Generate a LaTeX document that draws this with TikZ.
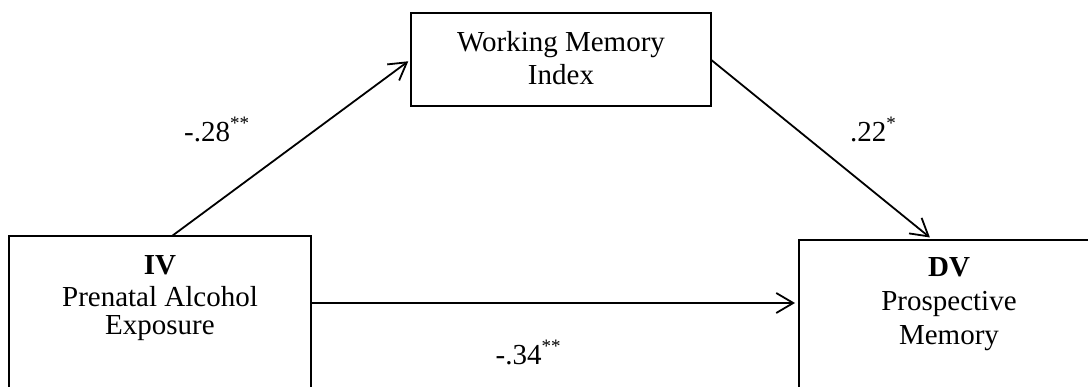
\documentclass[tikz,border=0pt]{standalone}
\usepackage{fontspec}
\setmainfont{Liberation Serif}
\usetikzlibrary{arrows.meta}
% significance stars set small and raised after a coefficient
\newcommand\sigstars[1]{\raisebox{12pt}{\fontsize{19}{19}\selectfont #1}}
\begin{document}
\begin{tikzpicture}[x=1pt,y=-1pt,
  box/.style={draw,line width=1.8pt,rectangle,inner sep=0pt,outer sep=0pt},
  boxtext/.style={font=\fontsize{29}{33}\selectfont,inner sep=0pt,anchor=base},
  coef/.style={font=\fontsize{29}{33}\selectfont,inner sep=0pt,anchor=base west},
  arr/.style={line width=1.8pt,-{Straight Barb[length=17pt,width=20pt]}}]
\clip (0,0) rectangle (1088,387);

% variable boxes
\node[box,minimum width=302pt,minimum height=220pt,anchor=north west] (iv) at (9,236) {};
\node[box,minimum width=300pt,minimum height=220pt,anchor=north west] (dv) at (799,240) {};
\node[box,minimum width=300pt,minimum height=93pt,anchor=north west] (wm) at (410.7,13) {};

% box labels
\node[boxtext] (wm1) at (561,51.7) {Working Memory};
\node[boxtext] (wm2) at (561,85) {Index};
\node[boxtext] (iv1) at (160,275) {\textbf{IV}};
\node[boxtext] (iv2) at (160,307) {Prenatal Alcohol};
\node[boxtext] (iv3) at (160,335) {Exposure};
\node[boxtext] (dv1) at (949,277) {\textbf{DV}};
\node[boxtext] (dv2) at (949,311) {Prospective};
\node[boxtext] (dv3) at (949,345) {Memory};

% paths
\draw[arr,shorten >=3pt] ([xshift=163pt]iv.north west) -- (wm.west);
\draw[arr,shorten >=4pt] (wm.east) -- ([xshift=134pt]dv.north west);
\draw[arr,shorten >=4pt] ([yshift=-67pt]iv.north east) -- ([yshift=-63pt]dv.north west);

% path coefficients
\node[coef] (c1) at (184,141.7) {-.28\sigstars{**}};
\node[coef] (c2) at (850,141.7) {.22\sigstars{*}};
\node[coef] (c3) at (495.5,365) {-.34\sigstars{**}};
\end{tikzpicture}
\end{document}
